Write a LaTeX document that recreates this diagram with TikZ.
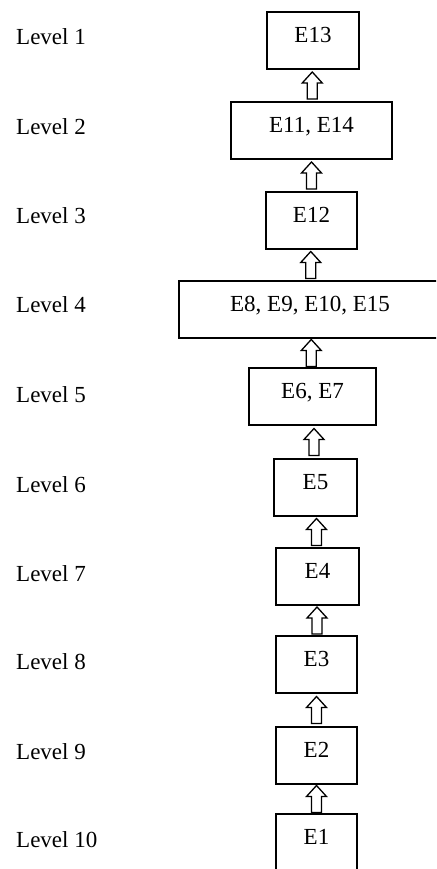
\documentclass[tikz,border=0pt]{standalone}
\usepackage{fontspec}
\setmainfont{Liberation Serif}
\usetikzlibrary{calc}
\tikzset{
  box/.style={draw=black,line width=1.5pt,inner xsep=0pt,inner ysep=0pt,text height=31pt,text depth=26pt,font=\fontsize{23}{26}\selectfont},
  lvl/.style={anchor=base west,inner sep=0pt,font=\fontsize{23}{26}\selectfont},
  blk/.style={draw=black,line width=1.3pt,fill=white,line join=miter}
}
\newcommand{\blockup}[2]{%
  \draw[blk] ($(#1.north)!0.5!(#2.south)$) ++(-5,-13.5) -- ++(0,16) -- ++(-5,0) -- ++(10,11) -- ++(10,-11) -- ++(-5,0) -- ++(0,-16) -- cycle;}

\begin{document}
\begin{tikzpicture}[x=1pt,y=1pt]
\clip (0,0) rectangle (436,869);
\foreach \i/\xc/\yc/\w/\t in {1/313/828.5/92/E13, 2/311.5/738.5/161/{E11, E14}, 3/311.5/648.5/91/E12,
  4/310/559.5/262/{E8, E9, E10, E15}, 5/312.5/472.5/127/{E6, E7}, 6/315.5/381.5/83/E5,
  7/317.5/292.5/83/E4, 8/316.5/204.5/81/E3, 9/316.5/113.5/81/E2, 10/316.5/26.5/81/E1}
  \node[box,minimum width=\w pt] (b\i) at (\xc,\yc) {\t};
\foreach \i/\yb in {1/824,2/734,3/645,4/556,5/466,6/376,7/287,8/199,9/109,10/21}
  \node[lvl] (lv\i) at (16,\yb) {Level \i};
\foreach \i in {2,...,10} {
  \pgfmathtruncatemacro\j{\i-1}
  \blockup{b\i}{b\j}
}
\end{tikzpicture}
\end{document}
